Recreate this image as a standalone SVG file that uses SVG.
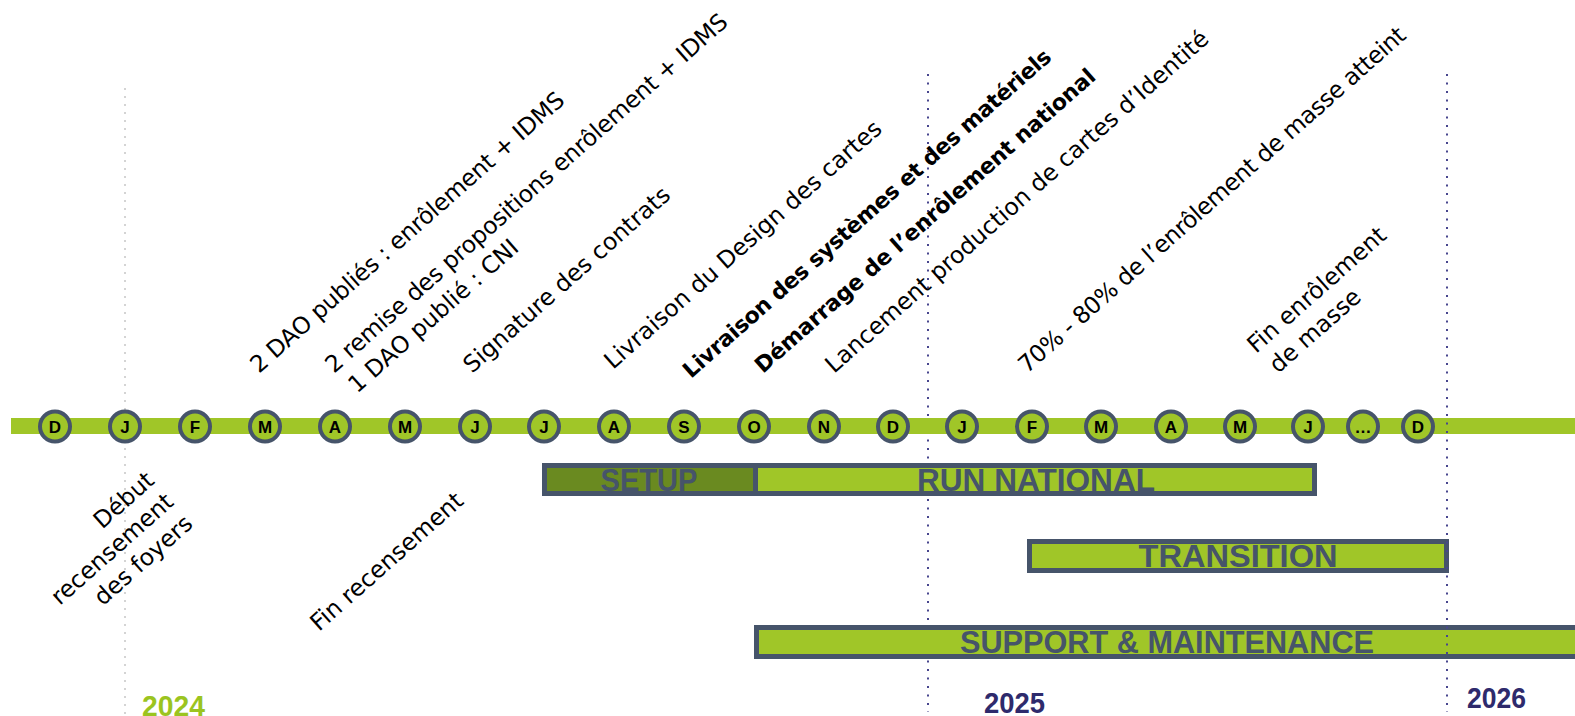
<svg xmlns="http://www.w3.org/2000/svg" width="1575" height="716" viewBox="0 0 1575 716">
<style>
.lbl{font-family:"DejaVu Sans","Liberation Sans",sans-serif;font-size:23.5px;fill:#000}
.lblb{font-family:"DejaVu Sans","Liberation Sans",sans-serif;font-size:22px;font-weight:bold;fill:#000}
.mon{fill:#a0c628;stroke:#46546a;stroke-width:4}
.mtx{font-family:"Liberation Sans",Arial,sans-serif;font-size:17px;font-weight:bold;fill:#000;text-anchor:middle}
.bar{stroke:#46546a;stroke-width:5}
.btx{font-family:"Liberation Sans",Arial,sans-serif;font-size:31px;font-weight:bold;fill:#46546a;text-anchor:middle}
.yr{font-family:"Liberation Sans",Arial,sans-serif;font-size:30px;font-weight:bold}
.vl{stroke:#48468e;stroke-width:2;stroke-dasharray:2 6.5}
</style>
<rect width="1575" height="716" fill="#fff"/>
<g id="gridlines">
<line x1="125" y1="88" x2="125" y2="716" stroke="#d4d4d4" stroke-width="2" stroke-dasharray="2 6"/>
<line class="vl" x1="928" y1="74" x2="928" y2="712"/>
</g>
<g id="timeline">
<rect x="11" y="418" width="1564" height="16" fill="#a0c628"/>
</g>
<g id="months">
<g id="m-d24"><circle class="mon" cx="55" cy="426.5" r="15"/><text class="mtx" x="55" y="433">D</text></g>
<g id="m-j24"><circle class="mon" cx="125" cy="426.5" r="15"/><text class="mtx" x="125" y="433">J</text></g>
<g id="m-f24"><circle class="mon" cx="195" cy="426.5" r="15"/><text class="mtx" x="195" y="433">F</text></g>
<g id="m-m24"><circle class="mon" cx="265" cy="426.5" r="15"/><text class="mtx" x="265" y="433">M</text></g>
<g id="m-a24"><circle class="mon" cx="335" cy="426.5" r="15"/><text class="mtx" x="335" y="433">A</text></g>
<g id="m-my24"><circle class="mon" cx="405" cy="426.5" r="15"/><text class="mtx" x="405" y="433">M</text></g>
<g id="m-jn24"><circle class="mon" cx="475" cy="426.5" r="15"/><text class="mtx" x="475" y="433">J</text></g>
<g id="m-jl24"><circle class="mon" cx="544" cy="426.5" r="15"/><text class="mtx" x="544" y="433">J</text></g>
<g id="m-au24"><circle class="mon" cx="614" cy="426.5" r="15"/><text class="mtx" x="614" y="433">A</text></g>
<g id="m-s24"><circle class="mon" cx="684" cy="426.5" r="15"/><text class="mtx" x="684" y="433">S</text></g>
<g id="m-o24"><circle class="mon" cx="754" cy="426.5" r="15"/><text class="mtx" x="754" y="433">O</text></g>
<g id="m-n24"><circle class="mon" cx="824" cy="426.5" r="15"/><text class="mtx" x="824" y="433">N</text></g>
<g id="m-dc24"><circle class="mon" cx="893" cy="426.5" r="15"/><text class="mtx" x="893" y="433">D</text></g>
<g id="m-j25"><circle class="mon" cx="962" cy="426.5" r="15"/><text class="mtx" x="962" y="433">J</text></g>
<g id="m-f25"><circle class="mon" cx="1032" cy="426.5" r="15"/><text class="mtx" x="1032" y="433">F</text></g>
<g id="m-m25"><circle class="mon" cx="1101" cy="426.5" r="15"/><text class="mtx" x="1101" y="433">M</text></g>
<g id="m-a25"><circle class="mon" cx="1171" cy="426.5" r="15"/><text class="mtx" x="1171" y="433">A</text></g>
<g id="m-my25"><circle class="mon" cx="1240" cy="426.5" r="15"/><text class="mtx" x="1240" y="433">M</text></g>
<g id="m-jn25"><circle class="mon" cx="1308" cy="426.5" r="15"/><text class="mtx" x="1308" y="433">J</text></g>
<g id="m-etc"><circle class="mon" cx="1363" cy="426.5" r="15"/><text class="mtx" x="1363" y="433">…</text></g>
<g id="m-dc25"><circle class="mon" cx="1418" cy="426.5" r="15"/><text class="mtx" x="1418" y="433">D</text></g>
</g>
<g id="phases">
<g id="setup"><rect class="bar" x="544.5" y="465.5" width="211" height="28" fill="#6a8a20"/><text class="btx" x="649" y="490.5" textLength="97" lengthAdjust="spacingAndGlyphs">SETUP</text></g>
<g id="run"><rect class="bar" x="755.5" y="465.5" width="559" height="28" fill="#a0c628"/><text class="btx" x="1036" y="490.5" textLength="238" lengthAdjust="spacingAndGlyphs">RUN NATIONAL</text></g>
<g id="transition"><rect class="bar" x="1029.5" y="541.5" width="417" height="29" fill="#a0c628"/><text class="btx" x="1238" y="567" textLength="199" lengthAdjust="spacingAndGlyphs">TRANSITION</text></g>
<g id="support"><rect class="bar" x="756.5" y="627.5" width="840" height="29" fill="#a0c628"/><text class="btx" x="1167" y="653" textLength="414" lengthAdjust="spacingAndGlyphs">SUPPORT &amp; MAINTENANCE</text></g>
</g>
<g id="gridline-2026">
<line class="vl" x1="1447" y1="74" x2="1447" y2="712"/>
</g>
<g id="milestones-top">
<text class="lbl" transform="translate(259,374) rotate(-41.5)" textLength="410">2 DAO publiés : enrôlement + IDMS</text>
<text class="lbl" transform="translate(334,374) rotate(-41.5)" textLength="528">2 remise des propositions enrôlement + IDMS</text>
<text class="lbl" transform="translate(357,394) rotate(-41.5)">1 DAO publié : CNI</text>
<text class="lbl" transform="translate(472,374) rotate(-41.5)">Signature des contrats</text>
<text class="lbl" transform="translate(613,370) rotate(-41.5)">Livraison du Design des cartes</text>
<text class="lblb" transform="translate(691,379) rotate(-41.5)" textLength="483">Livraison des systèmes et des matériels</text>
<text class="lblb" transform="translate(763,374) rotate(-41.5)" textLength="446">Démarrage de l’enrôlement national</text>
<text class="lbl" transform="translate(834,374) rotate(-41.5)">Lancement production de cartes d’Identité</text>
<text class="lbl" transform="translate(1027,374) rotate(-41.5)" textLength="508">70% - 80% de l’enrôlement de masse atteint</text>
<text class="lbl" transform="translate(1256,354) rotate(-41.5)">Fin enrôlement</text>
<text class="lbl" transform="translate(1278,374) rotate(-41.5)">de masse</text>
</g>
<g id="milestones-bottom">
<g transform="translate(175,504) rotate(-41.5)" text-anchor="end">
<text class="lbl" x="0" y="-29">Début</text>
<text class="lbl" x="0" y="0">recensement</text>
<text class="lbl" x="0" y="29">des foyers</text>
</g>
<text class="lbl" transform="translate(319,632) rotate(-41.5)">Fin recensement</text>
</g>
<g id="years">
<text class="yr" x="142" y="716" fill="#9bc41f" textLength="63" lengthAdjust="spacingAndGlyphs">2024</text>
<text class="yr" x="984" y="713" fill="#2e2a6c" textLength="61" lengthAdjust="spacingAndGlyphs">2025</text>
<text class="yr" x="1467" y="708" fill="#2e2a6c" textLength="59" lengthAdjust="spacingAndGlyphs">2026</text>
</g>
</svg>
